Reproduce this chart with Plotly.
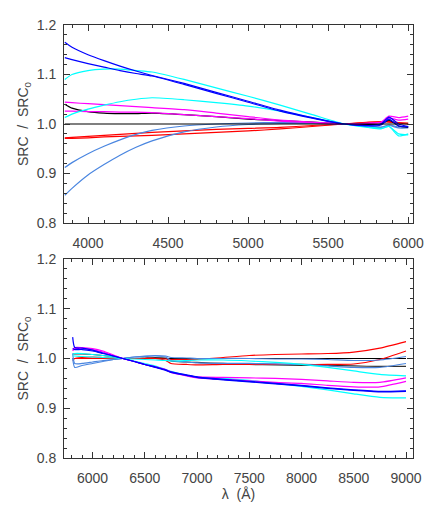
import plotly.graph_objects as go
from plotly.subplots import make_subplots

# Upper panel: blue end of the spectrum, normalised near 5600 A
TOP_WL = [3855, 3900, 4000, 4100, 4200, 4300, 4400, 4600, 4800, 5000,
          5200, 5400, 5600, 5750, 5830, 5880, 5940, 6000]
TOP_BLACK_REF = [1.0] * len(TOP_WL)
TOP_BLACK = [1.040, 1.032, 1.025, 1.022, 1.021, 1.021, 1.022, 1.019, 1.015, 1.010,
             1.007, 1.004, 1.000, 0.999, 1.000, 1.008, 0.996, 0.993]
TOP_RED_A = [0.972, 0.973, 0.975, 0.977, 0.979, 0.981, 0.983, 0.986, 0.989, 0.991,
             0.993, 0.997, 1.000, 1.003, 1.004, 1.004, 1.003, 1.002]
TOP_RED_B = [0.971, 0.971, 0.972, 0.974, 0.975, 0.976, 0.977, 0.980, 0.983, 0.986,
             0.990, 0.995, 1.000, 1.004, 1.005, 1.005, 1.002, 1.000]
TOP_MAGENTA_A = [1.044, 1.043, 1.041, 1.039, 1.037, 1.035, 1.033, 1.029, 1.022, 1.015,
                 1.008, 1.004, 1.000, 1.002, 1.004, 1.016, 1.013, 1.016]
TOP_MAGENTA_B = [1.026, 1.026, 1.025, 1.025, 1.024, 1.024, 1.023, 1.019, 1.015, 1.011,
                 1.006, 1.003, 1.000, 1.001, 1.003, 1.012, 1.008, 1.010]
TOP_BLUE_A = [1.165, 1.155, 1.140, 1.128, 1.117, 1.107, 1.098, 1.082, 1.064, 1.046,
              1.028, 1.013, 1.000, 0.997, 1.000, 1.014, 1.000, 0.995]
TOP_BLUE_B = [1.134, 1.130, 1.122, 1.115, 1.108, 1.102, 1.097, 1.080, 1.062, 1.044,
              1.026, 1.012, 1.000, 0.996, 0.998, 1.010, 0.996, 0.994]
TOP_CYAN_A = [1.090, 1.100, 1.108, 1.111, 1.111, 1.108, 1.105, 1.090, 1.073, 1.056,
              1.038, 1.019, 1.000, 0.993, 0.990, 0.995, 0.980, 0.978]
TOP_CYAN_B = [1.013, 1.020, 1.030, 1.038, 1.045, 1.050, 1.053, 1.049, 1.043, 1.036,
              1.026, 1.013, 1.000, 0.994, 0.991, 0.995, 0.976, 0.980]
TOP_LTBLUE_A = [0.912, 0.922, 0.940, 0.955, 0.968, 0.979, 0.987, 0.996, 1.000, 1.002,
                1.003, 1.002, 1.000, 0.997, 0.994, 0.998, 0.994, 0.995]
TOP_LTBLUE_B = [0.856, 0.870, 0.897, 0.918, 0.937, 0.953, 0.966, 0.984, 0.994, 0.999,
                1.001, 1.001, 1.000, 0.996, 0.993, 0.997, 0.992, 0.992]

# Lower panel: red end of the spectrum, normalised near 6290 A
BOT_WL = [5810, 5830, 5900, 6000, 6100, 6200, 6290, 6400, 6500, 6600, 6700,
          6750, 6900, 7000, 7250, 7500, 7750, 8000, 8250, 8500, 8750, 9000]
BOT_BLACK_REF = [1.0] * len(BOT_WL)
BOT_BLACK = [1.009, 1.009, 1.009, 1.008, 1.006, 1.003, 1.000, 1.000, 1.001, 1.002, 1.001,
             0.995, 0.993, 0.992, 0.990, 0.988, 0.987, 0.986, 0.986, 0.985, 0.984, 0.984]
BOT_RED_A = [1.000, 1.000, 1.000, 1.000, 1.000, 1.000, 1.000, 1.000, 1.000, 1.000, 0.999,
             0.998, 0.998, 0.998, 1.002, 1.006, 1.008, 1.009, 1.010, 1.013, 1.021, 1.034]
BOT_RED_B = [0.996, 1.000, 1.002, 1.003, 1.002, 1.001, 1.000, 1.000, 1.000, 1.000, 0.996,
             0.990, 0.988, 0.987, 0.988, 0.988, 0.988, 0.988, 0.988, 0.989, 0.998, 1.015]
BOT_MAGENTA_A = [1.018, 1.022, 1.022, 1.020, 1.015, 1.007, 1.000, 0.994, 0.988, 0.983, 0.978,
                 0.973, 0.966, 0.963, 0.962, 0.961, 0.960, 0.958, 0.955, 0.952, 0.952, 0.961]
BOT_MAGENTA_B = [1.015, 1.020, 1.020, 1.018, 1.013, 1.006, 1.000, 0.994, 0.988, 0.983, 0.977,
                 0.972, 0.965, 0.961, 0.958, 0.955, 0.952, 0.950, 0.946, 0.943, 0.943, 0.954]
BOT_BLUE_A = [1.043, 1.022, 1.021, 1.017, 1.011, 1.005, 1.000, 0.994, 0.988, 0.982, 0.976,
              0.972, 0.966, 0.962, 0.957, 0.953, 0.949, 0.945, 0.940, 0.936, 0.933, 0.934]
BOT_BLUE_B = [1.020, 1.018, 1.018, 1.015, 1.010, 1.005, 1.000, 0.994, 0.988, 0.983, 0.977,
              0.973, 0.967, 0.963, 0.958, 0.954, 0.950, 0.946, 0.941, 0.937, 0.934, 0.935]
BOT_CYAN_A = [1.005, 1.005, 1.004, 1.003, 1.002, 1.001, 1.000, 0.999, 0.998, 0.997, 0.996,
              0.995, 0.996, 0.997, 0.997, 0.995, 0.992, 0.988, 0.982, 0.975, 0.968, 0.965]
BOT_CYAN_B = [1.008, 1.010, 1.010, 1.008, 1.006, 1.003, 1.000, 0.995, 0.990, 0.985, 0.978,
              0.974, 0.966, 0.962, 0.960, 0.956, 0.950, 0.944, 0.937, 0.929, 0.922, 0.921]
BOT_LTBLUE_A = [1.000, 0.982, 0.986, 0.990, 0.994, 0.998, 1.000, 1.003, 1.005, 1.006, 1.005,
                1.002, 1.001, 1.000, 1.000, 1.000, 0.999, 0.999, 0.998, 0.996, 0.997, 1.004]
BOT_LTBLUE_B = [1.010, 0.990, 0.990, 0.993, 0.996, 0.998, 1.000, 1.003, 1.004, 1.005, 1.003,
                0.996, 0.993, 0.991, 0.990, 0.990, 0.989, 0.988, 0.985, 0.982, 0.982, 0.990]

BLACK = "#000000"
RED = "#ff0000"
MAGENTA = "#ff00ff"
BLUE = "#0000ff"
CYAN = "#00ffff"
LTBLUE = "#4a86e0"

top_series = [
    (TOP_RED_A, RED), (TOP_RED_B, RED),
    (TOP_LTBLUE_A, LTBLUE), (TOP_LTBLUE_B, LTBLUE),
    (TOP_BLACK, BLACK),
    (TOP_MAGENTA_A, MAGENTA), (TOP_MAGENTA_B, MAGENTA),
    (TOP_CYAN_A, CYAN), (TOP_CYAN_B, CYAN),
    (TOP_BLUE_A, BLUE), (TOP_BLUE_B, BLUE),
    (TOP_BLACK_REF, BLACK),
]
bot_series = [
    (BOT_BLACK_REF, BLACK), (BOT_BLACK, "#333333"),
    (BOT_RED_A, RED), (BOT_RED_B, RED),
    (BOT_LTBLUE_A, LTBLUE), (BOT_LTBLUE_B, LTBLUE),
    (BOT_CYAN_A, CYAN), (BOT_CYAN_B, CYAN),
    (BOT_MAGENTA_A, MAGENTA), (BOT_MAGENTA_B, MAGENTA),
    (BOT_BLUE_A, BLUE), (BOT_BLUE_B, BLUE),
]

fig = make_subplots(rows=2, cols=1)

for vals, color in top_series:
    fig.add_trace(
        go.Scatter(x=TOP_WL, y=vals, mode="lines",
                   line=dict(color=color, width=1.2, shape="spline", smoothing=0.6)),
        row=1, col=1,
    )
for vals, color in bot_series:
    fig.add_trace(
        go.Scatter(x=BOT_WL, y=vals, mode="lines",
                   line=dict(color=color, width=1.2, shape="spline", smoothing=0.6)),
        row=2, col=1,
    )

font = dict(family="Liberation Sans, Arial, sans-serif", size=14, color="#444444")
axis_common = dict(
    showline=True, linecolor="#333333", linewidth=1, mirror="allticks",
    ticks="inside", ticklen=6, tickcolor="#333333", showgrid=False, zeroline=False,
    tickfont=font,
)
minor_x = dict(dtick=100, tick0=0, ticks="inside", ticklen=3, tickcolor="#333333")

fig.update_xaxes(range=[3850, 6030], tickvals=[4000, 4500, 5000, 5500, 6000],
                 minor=minor_x, ticklabelstandoff=7, domain=[0, 1],
                 row=1, col=1, **axis_common)
fig.update_xaxes(range=[5727, 9067], tickvals=[6000, 6500, 7000, 7500, 8000, 8500, 9000],
                 minor=minor_x, ticklabelstandoff=7, domain=[0, 1],
                 title=dict(text="λ  (Å)", font=font, standoff=0), row=2, col=1, **axis_common)

for r, dom in ((1, [0.5427, 1.0]), (2, [0.0, 0.4596])):
    fig.update_yaxes(range=[0.8, 1.2], tickvals=[0.8, 0.9, 1.0, 1.1, 1.2], tickformat=".1f",
                     minor=dict(dtick=0.02, tick0=0.8, ticks="inside", ticklen=3, tickcolor="#333333"),
                     ticklabelstandoff=4, domain=dom,
                     title=dict(text="SRC  /  SRC<sub>0</sub>", font=font, standoff=4),
                     row=r, col=1, **axis_common)

# the page body adds an 8px offset, so the margins are trimmed to compensate
fig.update_layout(
    width=436, height=509,
    margin=dict(l=56, r=31, t=17, b=59, autoexpand=False),
    showlegend=False,
    plot_bgcolor="white", paper_bgcolor="white",
    font=font,
)

fig.write_html("out.html")
